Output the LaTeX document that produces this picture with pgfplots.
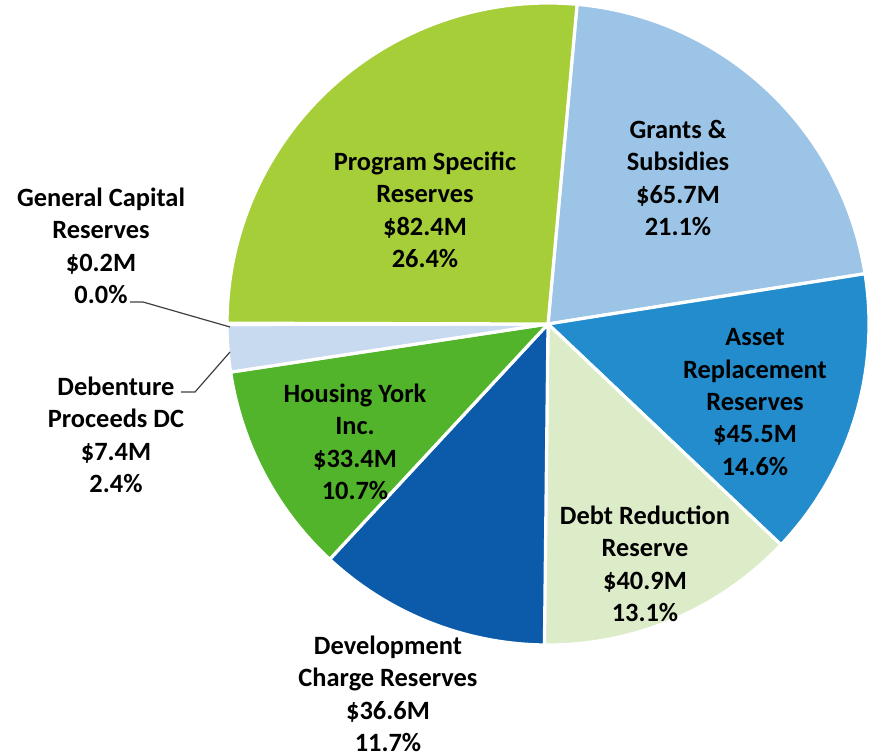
\documentclass[border=0pt]{standalone}
\usepackage{pgfplots}
\usepackage{pgfplotstable}
\pgfplotsset{compat=1.18}
\usepackage{fontspec}
\setmainfont{Carlito}

% slices clockwise, starting at the top (Grants)
\pgfplotstableread[col sep=comma]{
name,value
Grants,65.7
Asset,45.5
Debt,40.9
Development,36.6
Housing,33.4
Debenture,7.4
General,0.2
Program,82.4
}\piedata

\definecolor{c0}{HTML}{9BC4E6}
\definecolor{c1}{HTML}{228CCD}
\definecolor{c2}{HTML}{DCECC8}
\definecolor{c3}{HTML}{0C5AAA}
\definecolor{c4}{HTML}{52B42A}
\definecolor{c5}{HTML}{C8DAEF}
\definecolor{c6}{HTML}{C8DAEF}
\definecolor{c7}{HTML}{A6CE39}
\definecolor{leader}{HTML}{404040}

\begin{document}
\begin{tikzpicture}
\begin{axis}[name=ax,
  scale only axis, width=437pt, height=378pt,
  xmin=0, xmax=874, ymin=0, ymax=756,
  hide axis, clip=false]

% total of the values
\def\total{0}
\pgfplotsforeachungrouped \i in {0,...,7}{%
  \pgfplotstablegetelem{\i}{value}\of\piedata
  \pgfmathsetmacro{\newtotal}{\total+\pgfplotsretval}%
  \global\let\total\newtotal
}

\def\cumul{84.8}
\pgfplotsforeachungrouped \i in {0,...,7}{%
  \pgfplotstablegetelem{\i}{value}\of\piedata
  \pgfmathsetmacro{\frac}{\pgfplotsretval/\total}%
  \pgfmathsetmacro{\startang}{\cumul}%
  \pgfmathsetmacro{\endang}{\cumul-360*\frac}%
  \edef\temp{\noexpand\filldraw[fill=c\i, draw=white, line width=1.6pt, line join=round]
    (axis cs:548,432) -- ++(\startang:160.5pt)
    arc[start angle=\startang, end angle=\endang, radius=160.5pt] -- cycle;}%
  \temp
  \global\let\cumul\endang
}

% leader lines
\draw[leader, line width=0.6pt] (axis cs:130,454) -- (axis cs:143,454) -- (axis cs:230,429);
\draw[leader, line width=0.6pt] (axis cs:181,364) -- (axis cs:195,364) -- (axis cs:230,404);

\tikzset{lbl/.style={align=center, inner sep=0pt, text=black,
  font=\bfseries\fontsize{13.2}{16.2}\selectfont}}
\node[lbl] at (axis cs:425,546) {Program Specific\\Reserves\\\$82.4M\\26.4\%};
\node[lbl] at (axis cs:678,578) {Grants \&\\Subsidies\\\$65.7M\\21.1\%};
\node[lbl] at (axis cs:755,354) {Asset\\Replacement\\Reserves\\\$45.5M\\14.6\%};
\node[lbl] at (axis cs:645,192) {Debt Reduction\\Reserve\\\$40.9M\\13.1\%};
\node[lbl] at (axis cs:388,62) {Development\\Charge Reserves\\\$36.6M\\11.7\%};
\node[lbl] at (axis cs:355,314) {Housing York\\Inc.\\\$33.4M\\10.7\%};
\node[lbl] at (axis cs:101,510) {General Capital\\Reserves\\\$0.2M\\0.0\%};
\node[lbl] at (axis cs:116,321) {Debenture\\Proceeds DC\\\$7.4M\\2.4\%};
\end{axis}
\pgfresetboundingbox
\path[use as bounding box] (ax.south west) rectangle (ax.north east);
\end{tikzpicture}
\end{document}
